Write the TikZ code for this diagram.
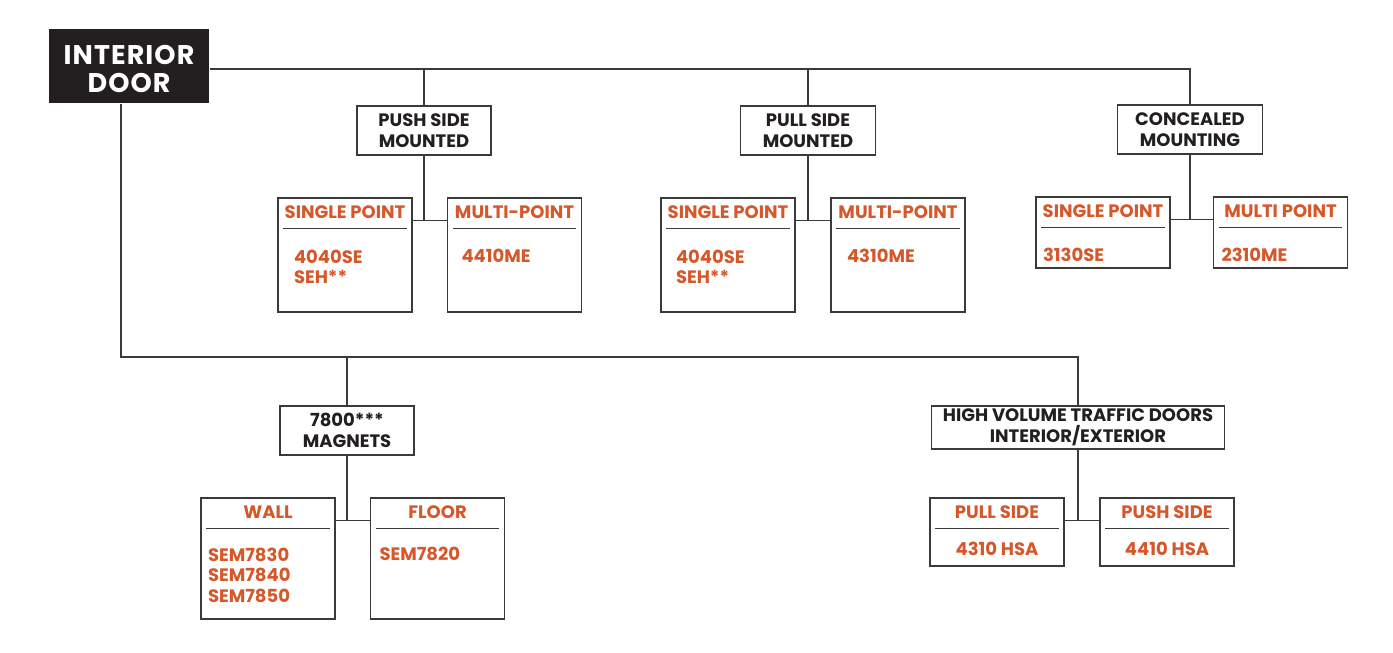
\documentclass[tikz,border=0pt]{standalone}
\usepackage{fontspec}
\setmainfont{Poppins}
\newfontfamily\titlefont{Poppins}[LetterSpace=4]
\usetikzlibrary{positioning,calc}
\definecolor{sdorange}{HTML}{D6572A}
\definecolor{sdink}{HTML}{231F20}
\definecolor{sdline}{HTML}{3A3A3A}

\begin{document}
\begin{tikzpicture}[x=1pt,y=-1pt,line width=1.4pt,draw=sdline,font=\bfseries\fontsize{18}{21}\selectfont]
    \tikzstyle{rootbox}=[fill=sdink,minimum width=160pt,minimum height=74pt,inner sep=0pt]
    \tikzstyle{roottext}=[text=white,align=center,inner sep=0pt,font=\titlefont\bfseries\fontsize{27}{28}\selectfont]
    \tikzstyle{grp}=[draw=sdline,text=sdink,minimum height=49pt,align=center,inner sep=0pt]
    \tikzstyle{leaf}=[draw=sdline,minimum width=134pt,inner sep=0pt]
    \tikzstyle{hd}=[text=sdorange,anchor=base,inner sep=0pt]
    \tikzstyle{part}=[text=sdorange,align=left,inner sep=0pt,font=\bfseries\fontsize{18}{20.5}\selectfont]
    \tikzstyle{rule}=[draw=sdline,line width=1.2pt]
    \useasboundingbox (0,0) rectangle (1393,653);
    % top level
    \node[rootbox] (root) at (129,66) {};
    \node[roottext] (rootlbl) at ([yshift=-3pt]root.center) {INTERIOR\\DOOR};
    \node[grp,minimum width=134pt] (push) at (424,130.5) {PUSH SIDE\\MOUNTED};
    \node[grp,minimum width=135pt] (pull) at (808,130.5) {PULL SIDE\\MOUNTED};
    \node[grp,minimum width=145pt] (conc) at (1190,129.5) {CONCEALED\\MOUNTING};
    \node[grp,minimum width=134pt] (mag)  at (347,430.5) {7800***\\MAGNETS};
    \node[grp,minimum width=293pt,minimum height=43pt] (hv) at (1078,427.5) {HIGH VOLUME TRAFFIC DOORS\\INTERIOR/EXTERIOR};
    \coordinate (bus) at (1078,357);
    % leaf boxes
    \node[leaf,minimum height=114pt] (ps1) at (345,255) {};
    \node[leaf,minimum height=114pt] (pm1) at (514.5,255) {};
    \node[leaf,minimum height=114pt] (ls1) at (728,255) {};
    \node[leaf,minimum height=114pt] (lm1) at (898,255) {};
    \node[leaf,minimum height=71pt]  (cs1) at (1103,232.5) {};
    \node[leaf,minimum height=71pt]  (cm1) at (1280.5,232.5) {};
    \node[leaf,minimum height=121pt] (wall)  at (268,558.5) {};
    \node[leaf,minimum height=121pt] (floor) at (437.5,558.5) {};
    \node[leaf,minimum height=68pt]  (pl) at (997,532) {};
    \node[leaf,minimum height=68pt]  (pu) at (1167,532) {};
    % headings
    \node[hd] (ps1h) at ([yshift=-21.5pt]ps1.north) {SINGLE POINT};
    \node[hd] (pm1h) at ([yshift=-21.5pt]pm1.north) {MULTI-POINT};
    \node[hd] (ls1h) at ([yshift=-21.5pt]ls1.north) {SINGLE POINT};
    \node[hd] (lm1h) at ([yshift=-21.5pt]lm1.north) {MULTI-POINT};
    \node[hd] (cs1h) at ([yshift=-21.5pt]cs1.north) {SINGLE POINT};
    \node[hd] (cm1h) at ([yshift=-21.5pt]cm1.north) {MULTI POINT};
    \node[hd] (wallh)  at ([yshift=-21.5pt]wall.north) {WALL};
    \node[hd] (floorh) at ([yshift=-21.5pt]floor.north) {FLOOR};
    \node[hd] (plh) at ([yshift=-21.5pt]pl.north) {PULL SIDE};
    \node[hd] (puh) at ([yshift=-21.5pt]pu.north) {PUSH SIDE};
    \draw[rule] ([xshift=6pt,yshift=-31pt]ps1.north west) -- ([xshift=-6pt,yshift=-31pt]ps1.north east);
    \draw[rule] ([xshift=6pt,yshift=-31pt]pm1.north west) -- ([xshift=-6pt,yshift=-31pt]pm1.north east);
    \draw[rule] ([xshift=6pt,yshift=-31pt]ls1.north west) -- ([xshift=-6pt,yshift=-31pt]ls1.north east);
    \draw[rule] ([xshift=6pt,yshift=-31pt]lm1.north west) -- ([xshift=-6pt,yshift=-31pt]lm1.north east);
    \draw[rule] ([xshift=6pt,yshift=-31pt]cs1.north west) -- ([xshift=-6pt,yshift=-31pt]cs1.north east);
    \draw[rule] ([xshift=6pt,yshift=-31pt]cm1.north west) -- ([xshift=-6pt,yshift=-31pt]cm1.north east);
    \draw[rule] ([xshift=6pt,yshift=-31pt]wall.north west) -- ([xshift=-6pt,yshift=-31pt]wall.north east);
    \draw[rule] ([xshift=6pt,yshift=-31pt]floor.north west) -- ([xshift=-6pt,yshift=-31pt]floor.north east);
    \draw[rule] ([xshift=6pt,yshift=-31pt]pl.north west) -- ([xshift=-6pt,yshift=-31pt]pl.north east);
    \draw[rule] ([xshift=6pt,yshift=-31pt]pu.north west) -- ([xshift=-6pt,yshift=-31pt]pu.north east);
    % part numbers
    \node[part,anchor=north west] (ps1a) at ([xshift=16pt,yshift=-52pt]ps1.north west) {4040SE\\SEH**};
    \node[part,anchor=base west]  (pm1a) at ([xshift=14pt,yshift=-65pt]pm1.north west) {4410ME};
    \node[part,anchor=north west] (ls1a) at ([xshift=15pt,yshift=-52pt]ls1.north west) {4040SE\\SEH**};
    \node[part,anchor=base west]  (lm1a) at ([xshift=16pt,yshift=-65pt]lm1.north west) {4310ME};
    \node[part,anchor=base west]  (cs1a) at ([xshift=7pt,yshift=-65pt]cs1.north west) {3130SE};
    \node[part,anchor=base west]  (cm1a) at ([xshift=8pt,yshift=-65pt]cm1.north west) {2310ME};
    \node[part,anchor=north west] (walla)  at ([xshift=7pt,yshift=-50pt]wall.north west) {SEM7830\\SEM7840\\SEM7850};
    \node[part,anchor=base west]  (floora) at ([xshift=9pt,yshift=-63pt]floor.north west) {SEM7820};
    \node[part,anchor=base] (pla) at ([yshift=-58pt]pl.north) {4310 HSA};
    \node[part,anchor=base] (pua) at ([yshift=-58pt]pu.north) {4410 HSA};
    % connectors
    \draw (root.east |- rootlbl) -| (conc.north);
    \draw (push.north) -- (push.north |- rootlbl);
    \draw (pull.north) -- (pull.north |- rootlbl);
    \draw ([xshift=-8pt]root.south) |- (bus) -- (hv.north);
    \draw (mag.north) -- (mag.north |- bus);
    \draw (push.south) |- ([yshift=-23pt]ps1.north east) -- ([yshift=-23pt]pm1.north west);
    \draw (pull.south) |- ([yshift=-23pt]ls1.north east) -- ([yshift=-23pt]lm1.north west);
    \draw (conc.south) |- ([yshift=-23pt]cs1.north east) -- ([yshift=-23pt]cm1.north west);
    \draw (mag.south) |- ([yshift=-23pt]wall.north east) -- ([yshift=-23pt]floor.north west);
    \draw (hv.south) |- ([yshift=-23pt]pl.north east) -- ([yshift=-23pt]pu.north west);
\end{tikzpicture}
\end{document}
